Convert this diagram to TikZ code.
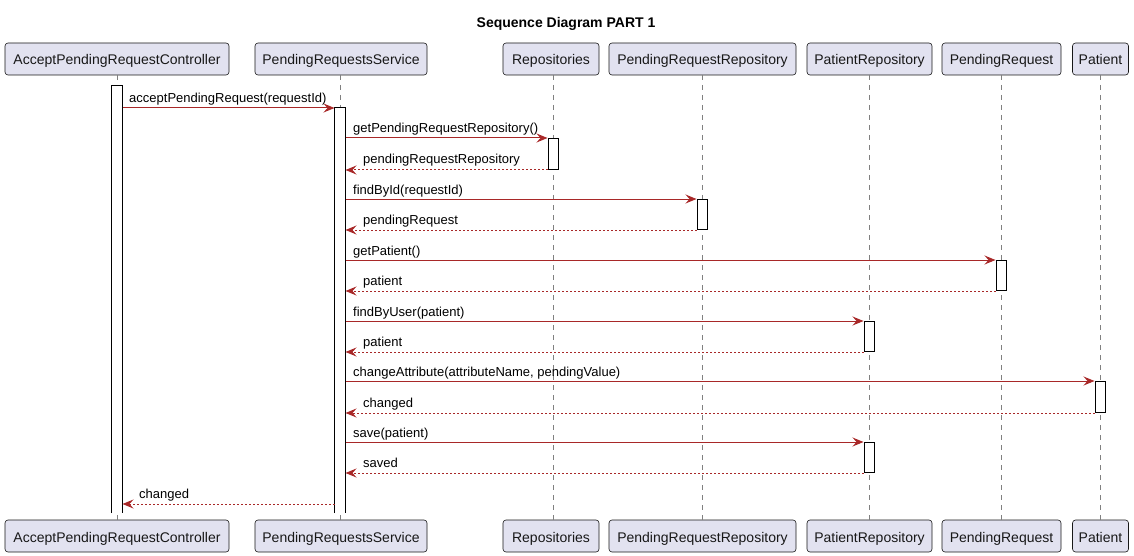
\documentclass[tikz,border=0pt]{standalone}
\usepackage{fontspec}
\setmainfont{Liberation Sans}
\usetikzlibrary{arrows.meta}
\definecolor{partfill}{RGB}{226,226,240}
\definecolor{partline}{RGB}{24,24,24}
\definecolor{msgred}{RGB}{168,40,40}
\definecolor{lifegray}{RGB}{128,128,128}
\tikzset{
  part/.style={draw=partline, line width=0.6pt, fill=partfill, rounded corners=3pt,
    minimum height=32pt, inner sep=0pt, text height=15pt, text depth=3pt,
    font=\fontsize{14}{16}\selectfont, text=partline},
  life/.style={draw=lifegray, line width=0.8pt, dash pattern=on 5pt off 5pt},
  actbox/.style={draw=black, line width=1pt, fill=white, minimum width=10pt, inner sep=0pt, anchor=north},
  openact/.style={actbox, draw=none},
  actedge/.style={draw=black, line width=1pt},
  msg/.style={draw=msgred, line width=1pt, -{Stealth[length=11pt,width=9pt,inset=4pt]}},
  ret/.style={msg, dash pattern=on 2pt off 2pt},
  lbl/.style={font=\fontsize{13}{15}\selectfont, inner sep=0pt, anchor=base west, text=black},
}
\begin{document}
\begin{tikzpicture}[x=1pt,y=-1pt]
\useasboundingbox (0,0) rectangle (1134,556);
\node[font=\bfseries\fontsize{14}{16}\selectfont] (title) at (566,24) {Sequence Diagram PART 1};
% participants top
\node[part, minimum width=224pt] (ct) at (117,59) {AcceptPendingRequestController};
\node[part, minimum width=172pt] (st) at (341,59) {PendingRequestsService};
\node[part, minimum width=96pt] (rt) at (551,59) {Repositories};
\node[part, minimum width=187pt] (prt) at (702.5,59) {PendingRequestRepository};
\node[part, minimum width=125pt] (pat) at (869.5,59) {PatientRepository};
\node[part, minimum width=119pt] (pqt) at (1001.5,59) {PendingRequest};
\node[part, minimum width=56pt] (pt) at (1100.5,59) {Patient};
% participants bottom
\node[part, minimum width=224pt] (cb) at (117,536) {AcceptPendingRequestController};
\node[part, minimum width=172pt] (sb) at (341,536) {PendingRequestsService};
\node[part, minimum width=96pt] (rb) at (551,536) {Repositories};
\node[part, minimum width=187pt] (prb) at (702.5,536) {PendingRequestRepository};
\node[part, minimum width=125pt] (pab) at (869.5,536) {PatientRepository};
\node[part, minimum width=119pt] (pqb) at (1001.5,536) {PendingRequest};
\node[part, minimum width=56pt] (pb) at (1100.5,536) {Patient};
% lifelines
\draw[life] (117,75) -- (117,520);
\draw[life] (340,75) -- (340,520);
\draw[life] (553,75) -- (553,520);
\draw[life] (702,75) -- (702,520);
\draw[life] (869,75) -- (869,520);
\draw[life] (1001,75) -- (1001,520);
\draw[life] (1100,75) -- (1100,520);
% activations
\node[openact, minimum height=426pt] (ca) at (117,86) {};
\draw[actedge] (ca.south west) -- (ca.north west) -- (ca.north east) -- (ca.south east);
\node[openact, minimum height=404pt] (sa) at (340,108) {};
\draw[actedge] (sa.south west) -- (sa.north west) -- (sa.north east) -- (sa.south east);
\node[actbox, minimum height=31pt] (ra) at (553,138) {};
\node[actbox, minimum height=30pt] (pra) at (702,199) {};
\node[actbox, minimum height=30pt] (pqa) at (1001,260) {};
\node[actbox, minimum height=30pt] (paa1) at (869,321) {};
\node[actbox, minimum height=31pt] (pa) at (1100,381) {};
\node[actbox, minimum height=30pt] (paa2) at (869,442) {};
% messages
\draw[msg] (ca.east |- sa.north) -- (sa.north west);
\node[lbl] (l1) at (129,103) {acceptPendingRequest(requestId)};
\draw[msg] (sa.east |- ra.north) -- (ra.north west);
\node[lbl] (l2) at (353,133) {getPendingRequestRepository()};
\draw[ret] (ra.south west) -- (sa.east |- ra.south);
\node[lbl] (l3) at (363,164) {pendingRequestRepository};
\draw[msg] (sa.east |- pra.north) -- (pra.north west);
\node[lbl] (l4) at (353,194) {findById(requestId)};
\draw[ret] (pra.south west) -- (sa.east |- pra.south);
\node[lbl] (l5) at (363,224) {pendingRequest};
\draw[msg] (sa.east |- pqa.north) -- (pqa.north west);
\node[lbl] (l6) at (353,255) {getPatient()};
\draw[ret] (pqa.south west) -- (sa.east |- pqa.south);
\node[lbl] (l7) at (363,285) {patient};
\draw[msg] (sa.east |- paa1.north) -- (paa1.north west);
\node[lbl] (l8) at (353,316) {findByUser(patient)};
\draw[ret] (paa1.south west) -- (sa.east |- paa1.south);
\node[lbl] (l9) at (363,346) {patient};
\draw[msg] (sa.east |- pa.north) -- (pa.north west);
\node[lbl] (l10) at (353,376) {changeAttribute(attributeName, pendingValue)};
\draw[ret] (pa.south west) -- (sa.east |- pa.south);
\node[lbl] (l11) at (363,407) {changed};
\draw[msg] (sa.east |- paa2.north) -- (paa2.north west);
\node[lbl] (l12) at (353,437) {save(patient)};
\draw[ret] (paa2.south west) -- (sa.east |- paa2.south);
\node[lbl] (l13) at (363,467) {saved};
\draw[ret] ([yshift=9pt]sa.south west) -- ([yshift=9pt]ca.south east);
\node[lbl] (l14) at (139,498) {changed};
\end{tikzpicture}
\end{document}
